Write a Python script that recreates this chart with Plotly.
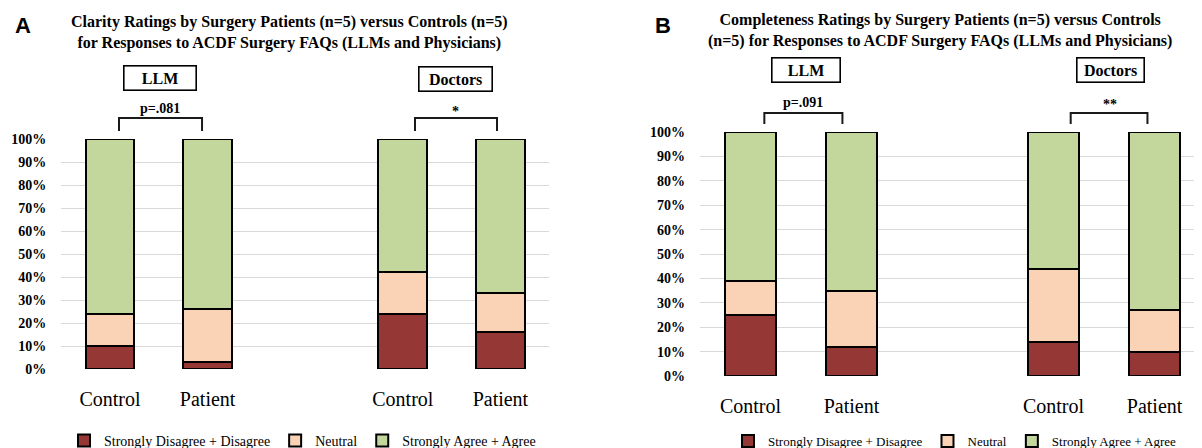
import plotly.graph_objects as go

# ---------------- data ----------------
bar_labels = ["Control", "Patient", "Control", "Patient"]
bar_slots = [0, 1, 3, 4]          # category slots (slot 2 is the empty gap between groups)
series_names = ["Strongly Disagree + Disagree", "Neutral", "Strongly Agree + Agree"]

clarity_disagree = [10, 3, 24, 16]
clarity_neutral = [14, 23, 18, 17]
clarity_agree = [76, 74, 58, 67]

complete_disagree = [25, 12, 14, 10]
complete_neutral = [14, 23, 30, 17]
complete_agree = [61, 65, 56, 73]

y_ticks = [0, 10, 20, 30, 40, 50, 60, 70, 80, 90, 100]
y_tick_labels = ["0%", "10%", "20%", "30%", "40%", "50%", "60%", "70%", "80%", "90%", "100%"]

title_a = "Clarity Ratings by Surgery Patients (n=5) versus Controls (n=5)<br>for Responses to ACDF Surgery FAQs (LLMs and Physicians)"
title_b = "Completeness Ratings by Surgery Patients (n=5) versus Controls<br>(n=5) for Responses to ACDF Surgery FAQs (LLMs and Physicians)"
group_names = ["LLM", "Doctors"]
sig_a = ["p=.081", "*"]
sig_b = ["p=.091", "**"]

# ---------------- style ----------------
colors = ["#953735", "#FAD3B6", "#C3D69B"]
SERIF = "Liberation Serif"
W, H = 1202, 448
OFF = 8  # the page body adds an 8px margin around the figure

def px(x):
    return (x - OFF) / W

def py(y):
    return 1 - (y - OFF) / H

fig = go.Figure()

panels = [
    ("x", "y", "legend", [clarity_disagree, clarity_neutral, clarity_agree]),
    ("x2", "y2", "legend2", [complete_disagree, complete_neutral, complete_agree]),
]
for xr, yr, lg, series in panels:
    for name, vals, col in zip(series_names, series, colors):
        fig.add_trace(go.Bar(
            x=bar_slots, y=vals, name=name, xaxis=xr, yaxis=yr, legend=lg,
            marker=dict(color=col, line=dict(color="#000000", width=2)),
            width=0.5, cliponaxis=False, hoverinfo="skip",
        ))

axis_common_x = dict(
    tickmode="array", tickvals=bar_slots, ticktext=bar_labels,
    showgrid=False, zeroline=False, showline=False, ticks="",
    tickfont=dict(family=SERIF, size=20, color="#000000"),
    ticklabelstandoff=16, fixedrange=True, automargin=False,
)
axis_common_y = dict(
    range=[0, 100], tickmode="array", tickvals=y_ticks, ticktext=y_tick_labels,
    showgrid=True, gridcolor="#D9D9D9", gridwidth=1, zeroline=False,
    showline=False, ticks="",
    tickfont=dict(family=SERIF, size=14, color="#000000", weight="bold"),
    ticklabelstandoff=14, fixedrange=True, automargin=False,
)

legend_common = dict(orientation="h", xanchor="left", yanchor="middle", itemwidth=30,
                     bgcolor="rgba(0,0,0,0)", traceorder="normal",
                     itemclick=False, itemdoubleclick=False)

fig.update_layout(
    width=W, height=H,
    margin=dict(l=0, r=0, t=0, b=0, pad=0, autoexpand=False),
    paper_bgcolor="white", plot_bgcolor="white",
    barmode="stack",
    xaxis=dict(domain=[px(61.2), px(549.2)], range=[-0.5, 4.5], anchor="y", **axis_common_x),
    yaxis=dict(domain=[py(369), py(139)], anchor="x", **axis_common_y),
    xaxis2=dict(domain=[px(700), px(1202)], range=[-0.5, 4.47], anchor="y2", **axis_common_x),
    yaxis2=dict(domain=[py(376), py(132)], anchor="x2", **axis_common_y),
    legend=dict(x=px(64), y=py(441), font=dict(family=SERIF, size=14, color="#000000"),
                **legend_common),
    legend2=dict(x=px(728), y=py(441), font=dict(family=SERIF, size=13, color="#000000"),
                 **legend_common),
    showlegend=True,
)

# panel letters and titles
for letter, lx in (("A", 23), ("B", 663)):
    fig.add_annotation(text="<b>" + letter + "</b>", x=px(lx), y=py(25), xref="paper", yref="paper",
                       xanchor="center", yanchor="middle", showarrow=False,
                       font=dict(family="Liberation Sans", size=22, color="#000000"))
for ttl, tx, ty in ((title_a, 289, 33), (title_b, 940, 30)):
    fig.add_annotation(text="<b>" + ttl.replace("<br>", "</b><br><b>") + "</b>",
                       x=px(tx), y=py(ty), xref="paper", yref="paper", showarrow=False,
                       xanchor="center", yanchor="middle", align="center",
                       font=dict(family=SERIF, size=16, color="#000000"))

# group boxes, significance labels and brackets
box_specs = [
    # xref, slot-x, y px, text, width
    ("x", 0.516, 78, group_names[0], 69),
    ("x", 3.545, 79, group_names[1], 70),
    ("x2", 0.554, 70, group_names[0], 65),
    ("x2", 3.56, 70, group_names[1], 64),
]
for xr, xv, yv, txt, wd in box_specs:
    fig.add_annotation(text="<b>" + txt + "</b>", x=xv, y=py(yv), xref=xr, yref="paper",
                       xanchor="center", yanchor="middle",
                       showarrow=False, width=wd, height=21, borderpad=1,
                       bordercolor="#000000", borderwidth=1.6, bgcolor="white",
                       font=dict(family=SERIF, size=16, color="#000000"))

sig_specs = [
    ("x", 0.512, 108, sig_a[0]),
    ("x", 3.535, 111, sig_a[1]),
    ("x2", 0.52, 102, sig_b[0]),
    ("x2", 3.56, 104, sig_b[1]),
]
for xr, xv, yv, txt in sig_specs:
    fig.add_annotation(text="<b>" + txt + "</b>", x=xv, y=py(yv), xref=xr, yref="paper",
                       xanchor="center", yanchor="middle", showarrow=False,
                       font=dict(family=SERIF, size=14, color="#000000"))

bracket_specs = [
    ("x", 0.092, 0.943, 118, 131),
    ("x", 3.125, 3.965, 118, 131),
    ("x2", 0.137, 0.91, 113, 124),
    ("x2", 3.17, 3.93, 113, 124),
]
for xr, x0, x1, ytop, ybot in bracket_specs:
    yt, yb = py(ytop), py(ybot)
    path = f"M {x0},{yb} L {x0},{yt} L {x1},{yt} L {x1},{yb}"
    fig.add_shape(type="path", path=path, xref=xr, yref="paper",
                  line=dict(color="#1a1a1a", width=2))

fig.write_html("out.html")
